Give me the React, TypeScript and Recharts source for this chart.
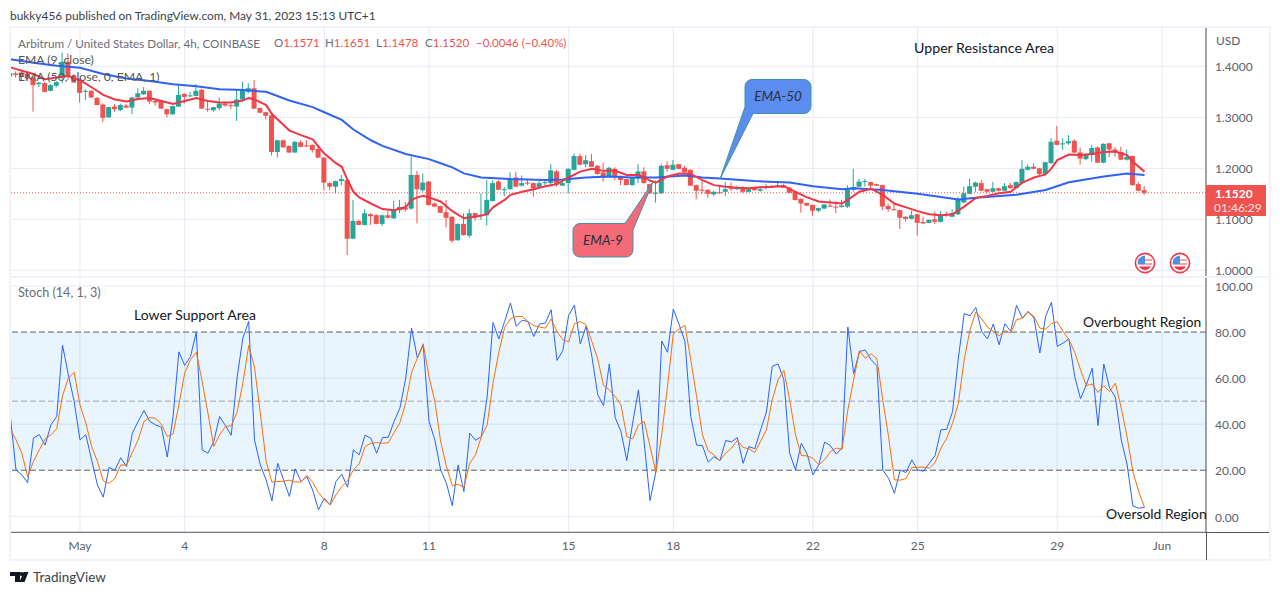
import React from "react";
import {
  ComposedChart, Bar, Line, XAxis, YAxis, CartesianGrid, ReferenceLine, ReferenceArea,
} from "recharts";

const FONT = "Lato, 'Open Sans', sans-serif";

// bar number 0 is 1 May; every bar is 4 hours
const firstBar = -12;
const xTicks = [0, 18, 42, 60, 84, 102, 126, 144, 168, 186];
const xTickLabels = ["May", "4", "8", "11", "15", "18", "22", "25", "29", "Jun"];
const priceTicks = [1.0, 1.1, 1.2, 1.3, 1.4];
const stochTicks = [0, 20, 40, 60, 80, 100];

const opens = [
  1.380,1.386,1.388,1.385,1.378,1.365,1.367,1.352,1.362,1.381,1.409,1.381,
  1.373,1.350,1.352,1.338,1.325,1.300,1.321,1.314,1.323,1.319,
  1.339,1.345,1.352,1.332,1.332,1.316,1.306,1.321,1.346,1.341,
  1.342,1.354,1.317,1.314,1.318,1.327,1.324,1.321,1.335,1.350,
  1.357,1.318,1.310,1.304,1.232,1.255,1.244,1.231,1.251,1.245,
  1.246,1.238,1.221,1.171,1.164,1.175,1.177,1.062,1.097,1.089,
  1.110,1.108,1.091,1.108,1.102,1.118,1.123,1.121,1.187,1.157,
  1.174,1.131,1.126,1.114,1.105,1.059,1.091,1.068,1.112,1.106,
  1.108,1.136,1.174,1.158,1.159,1.182,1.166,1.172,1.171,1.163,
  1.171,1.171,1.194,1.166,1.171,1.197,1.224,1.208,1.214,1.205,
  1.192,1.185,1.199,1.185,1.179,1.167,1.180,1.194,1.169,1.151,
  1.151,1.206,1.197,1.208,1.201,1.197,1.167,1.158,1.158,1.149,
  1.153,1.154,1.161,1.159,1.161,1.154,1.162,1.156,1.162,1.164,
  1.164,1.167,1.162,1.154,1.140,1.132,1.128,1.117,1.121,1.127,
  1.125,1.124,1.125,1.158,1.164,1.173,1.173,1.169,1.167,1.126,
  1.120,1.118,1.105,1.101,1.110,1.095,1.093,1.100,1.095,1.110,
  1.105,1.110,1.133,1.150,1.164,1.171,1.159,1.154,1.161,1.156,
  1.167,1.161,1.171,1.197,1.203,1.200,1.189,1.210,1.254,1.247,
  1.249,1.254,1.231,1.218,1.226,1.241,1.211,1.249,1.237,1.232,
  1.217,1.224,1.169,1.1571,
];
const highs = [
  1.388,1.390,1.393,1.388,1.381,1.370,1.369,1.365,1.371,1.427,1.425,1.384,
  1.376,1.355,1.353,1.340,1.327,1.321,1.326,1.327,1.326,1.340,
  1.357,1.359,1.353,1.337,1.334,1.317,1.323,1.365,1.347,1.350,
  1.365,1.356,1.334,1.320,1.339,1.331,1.327,1.354,1.370,1.367,
  1.373,1.319,1.311,1.305,1.256,1.256,1.245,1.253,1.255,1.255,
  1.247,1.246,1.222,1.172,1.176,1.187,1.178,1.138,1.099,1.120,
  1.112,1.110,1.109,1.116,1.136,1.138,1.134,1.223,1.195,1.190,
  1.175,1.133,1.127,1.138,1.106,1.092,1.112,1.120,1.113,1.151,
  1.177,1.176,1.177,1.164,1.192,1.193,1.186,1.177,1.172,1.176,
  1.177,1.208,1.197,1.173,1.200,1.229,1.229,1.226,1.228,1.207,
  1.211,1.203,1.202,1.186,1.180,1.183,1.208,1.202,1.170,1.176,
  1.208,1.214,1.216,1.209,1.205,1.198,1.168,1.176,1.159,1.156,
  1.165,1.173,1.172,1.166,1.165,1.161,1.164,1.165,1.169,1.167,
  1.172,1.169,1.163,1.155,1.141,1.133,1.129,1.123,1.130,1.139,
  1.135,1.138,1.167,1.199,1.180,1.179,1.174,1.170,1.168,1.131,
  1.131,1.119,1.106,1.117,1.111,1.105,1.100,1.115,1.116,1.115,
  1.120,1.144,1.164,1.180,1.174,1.177,1.160,1.173,1.162,1.171,
  1.171,1.174,1.216,1.208,1.210,1.201,1.213,1.259,1.283,1.259,
  1.265,1.257,1.241,1.229,1.246,1.243,1.249,1.250,1.242,1.242,
  1.237,1.225,1.173,1.1651,
];
const lows = [
  1.379,1.378,1.373,1.372,1.311,1.359,1.349,1.351,1.359,1.367,1.373,1.368,
  1.329,1.334,1.338,1.324,1.291,1.299,1.311,1.312,1.318,1.306,
  1.334,1.344,1.326,1.323,1.317,1.300,1.305,1.320,1.327,1.340,
  1.341,1.317,1.311,1.311,1.314,1.321,1.316,1.293,1.334,1.347,
  1.317,1.308,1.296,1.225,1.221,1.241,1.230,1.230,1.241,1.241,
  1.231,1.220,1.157,1.157,1.151,1.167,1.030,1.061,1.088,1.088,
  1.089,1.090,1.087,1.102,1.101,1.112,1.115,1.119,1.092,1.154,
  1.127,1.124,1.112,1.084,1.054,1.058,1.068,1.064,1.097,1.099,
  1.088,1.135,1.157,1.146,1.158,1.163,1.164,1.167,1.144,1.162,
  1.167,1.164,1.164,1.165,1.151,1.196,1.206,1.202,1.203,1.187,
  1.174,1.184,1.177,1.167,1.167,1.166,1.171,1.170,1.150,1.133,
  1.150,1.193,1.196,1.198,1.191,1.165,1.139,1.150,1.142,1.146,
  1.150,1.146,1.156,1.158,1.152,1.153,1.156,1.154,1.159,1.162,
  1.163,1.161,1.151,1.137,1.113,1.126,1.107,1.114,1.120,1.124,
  1.112,1.123,1.122,1.154,1.163,1.164,1.161,1.165,1.118,1.115,
  1.117,1.081,1.095,1.100,1.068,1.091,1.092,1.091,1.094,1.105,
  1.104,1.108,1.132,1.149,1.154,1.155,1.151,1.153,1.155,1.155,
  1.160,1.160,1.170,1.196,1.198,1.184,1.188,1.209,1.245,1.236,
  1.246,1.230,1.207,1.216,1.213,1.210,1.210,1.222,1.223,1.216,
  1.215,1.166,1.155,1.1478,
];
const closes = [
  1.387,1.383,1.381,1.376,1.363,1.368,1.350,1.363,1.369,1.409,1.381,1.368,
  1.348,1.352,1.339,1.324,1.299,1.320,1.316,1.324,1.319,1.339,
  1.347,1.352,1.331,1.329,1.317,1.306,1.322,1.344,1.340,1.343,
  1.352,1.317,1.316,1.320,1.327,1.323,1.322,1.335,1.352,1.357,
  1.317,1.309,1.303,1.232,1.255,1.241,1.231,1.252,1.242,1.243,
  1.236,1.221,1.172,1.164,1.175,1.179,1.062,1.097,1.089,1.112,
  1.106,1.091,1.108,1.103,1.119,1.124,1.119,1.187,1.159,1.172,
  1.128,1.125,1.113,1.103,1.058,1.091,1.069,1.112,1.104,1.108,
  1.138,1.171,1.158,1.159,1.180,1.164,1.171,1.170,1.161,1.171,
  1.173,1.196,1.168,1.171,1.199,1.224,1.207,1.216,1.203,1.189,
  1.182,1.201,1.185,1.177,1.167,1.182,1.194,1.171,1.151,1.152,
  1.205,1.199,1.207,1.199,1.192,1.166,1.156,1.156,1.150,1.154,
  1.151,1.159,1.159,1.163,1.154,1.159,1.157,1.159,1.163,1.163,
  1.167,1.162,1.152,1.138,1.131,1.127,1.117,1.122,1.129,1.125,
  1.124,1.127,1.161,1.163,1.174,1.175,1.166,1.166,1.125,1.120,
  1.118,1.103,1.101,1.108,1.093,1.092,1.099,1.095,1.108,1.108,
  1.112,1.138,1.151,1.165,1.172,1.156,1.154,1.161,1.156,1.165,
  1.161,1.173,1.199,1.203,1.199,1.189,1.212,1.252,1.246,1.249,
  1.253,1.231,1.219,1.226,1.240,1.211,1.248,1.237,1.231,1.217,
  1.222,1.167,1.156,1.1520,
];

const ema9Bars = [
  -12,-8,-6,-4,-2,0,2,4,6,8,10,12,14,16,18,20,22,24,26,28,29,30,32,33,35,36,38,40,42,44,45,46,47,48,50,52,54,56,57,58,59,
  60,62,64,66,68,70,71,73,74,76,78,80,82,84,86,88,90,92,94,96,98,99,101,103,105,107,109,111,113,115,117,119,121,123,125,127,129,131,132,
  134,136,138,140,142,144,146,148,150,152,154,156,158,160,162,164,166,167,168,170,172,174,176,178,180,181,183,
];
const ema9Values = [
  1.398,1.385,1.3745,1.378,1.381,1.373,1.359,1.344,1.335,1.331,1.336,1.338,1.332,1.326,1.332,1.338,1.332,1.329,1.329,1.333,1.338,1.335,1.324,1.3065,1.285,1.274,1.265,1.257,1.229,1.210,1.203,1.177,1.154,1.143,1.131,1.120,1.118,1.124,1.138,1.143,1.146,
  1.143,1.135,1.116,1.102,1.105,1.110,1.1235,1.138,1.148,1.154,1.159,1.165,1.169,1.182,1.1935,1.199,1.195,1.195,1.187,1.187,1.176,1.172,1.184,1.190,1.189,1.177,1.167,1.164,1.162,1.161,1.163,1.164,1.165,1.154,1.143,1.135,1.133,1.131,1.138,
  1.154,1.160,1.148,1.131,1.1235,1.116,1.110,1.108,1.110,1.125,1.142,1.146,1.151,1.154,1.172,1.182,1.188,1.200,1.216,1.227,1.226,1.228,1.232,1.233,1.226,1.213,1.1935,
];
const ema50Bars = [
  -12,-8,-4,0,4,8,12,16,20,24,28,32,36,40,42,45,47,50,52,56,
  60,62,64,66,69,74,80,83,87,91,95,99,104,107,110,116,122,126,131,
  133,138,144,151,154,161,166,170,176,180,183,
];
const ema50Values = [
  1.414,1.407,1.401,1.397,1.385,1.376,1.371,1.365,1.361,1.355,1.3535,1.350,1.333,1.320,1.310,1.295,1.276,1.255,1.244,1.228,
  1.218,1.210,1.202,1.190,1.182,1.179,1.177,1.178,1.182,1.184,1.182,1.182,1.186,1.182,1.180,1.175,1.172,1.165,1.159,
  1.161,1.1575,1.150,1.139,1.1425,1.148,1.1575,1.1725,1.184,1.190,1.187,
];

const stochK = [
  44.1,20.1,18,14.6,33.9,35.5,30.9,39.7,43.3,74.3,
  61.4,49.9,33.2,35.4,24.5,13.6,8.3,21.2,20,25.4,
  21.6,36.1,41.2,45.9,41.2,39.7,38.7,25.7,43.3,71.4,
  65.5,69.4,80,28.8,27.4,32.5,43.3,39.4,35.2,60,
  77.4,84.6,33.2,22.3,15.8,6.7,23,15.8,8.6,20.6,
  15.1,17.2,11.4,2.8,7.8,4.9,15.1,18.3,12.6,28.8,
  26.7,35.2,33.9,27.4,34.2,34.3,41.2,47,60,81.7,
  68.7,74.5,41.2,
  33.2,20.1,14.3,4.6,22.3,10.7,36.1,33,34.6,52,
  84.2,77,84.6,92.6,82.5,85.1,84.6,78.1,83.5,83.9,
  89.7,67.7,71.9,87.2,91.7,74.9,82.5,69.4,52.8,48,
  66.2,42.9,36.8,24.2,40.4,54.9,31.7,6.8,19.4,76.1,
  71.2,90,83.2,75.9,43.3,30.9,30.7,23.5,25.9,24.1,
  32.9,32.3,34.2,23,30.3,29.3,37.5,45.2,65.1,66.2,
  59.3,27.4,20.1,31.7,27,18,22.3,32.2,30.7,27,
  29.6,82.2,61.9,
  71.6,72.2,68,65.4,20.1,16.5,10,20.1,19,24.5,
  20.1,19.6,23,26.4,37.5,37.8,45.5,68.7,88,87.1,
  90.7,80.3,77,83.5,74.5,83.6,80.3,91.6,86.1,89,
  86.1,70.9,86.8,93,73.8,75.2,77,60.7,51,57.1,
  64.3,39.4,66.1,55.7,51.7,33.2,22.6,4.5,3.5,3.9,
];
const stochD = [
  38,33.2,27.4,17.2,23.8,28.8,33.5,35.4,38,52.3,
  60,62.5,48.4,40.4,30.3,23.8,15.4,14.3,16.5,22.3,
  22.2,27.7,33.2,41.2,42.9,42.5,40,34.6,35.8,48.4,
  62.2,68,71.2,58.6,44.8,30.3,35.4,39,39.3,45.1,
  57.8,74.1,64.8,44.8,23.8,14.8,15.1,15.2,15.7,14.9,
  14.8,17.7,14.8,10.3,7.1,4.9,9.3,12.9,15.5,20.1,
  22.8,30.3,31.7,32,31.7,31.9,36.4,40.7,49.4,62.5,
  68.7,74.9,60.7,
  49.9,32.5,21.6,13.3,13.9,12.6,23,26.7,34.6,39.7,
  57.8,71.2,82,85.7,86.8,86.8,84.6,82.8,82.2,81.7,
  85.7,80.3,76.7,75.7,83.6,84.6,83.2,75.9,68.3,56.8,
  54.9,52,48.4,34.6,33.6,39.7,41.2,30.3,19,35.4,
  56.4,79.3,81.3,82.9,68,52,35.4,28.4,26.7,24.1,
  27.4,29.6,32.9,29.9,29.3,27.7,32.5,37.5,50.6,59.3,
  63.3,50.6,35.4,26.4,26.2,25.2,22.3,24.5,28.1,29.6,
  29.1,46.2,59.3,
  71.9,68.6,70.6,68.4,50.6,34.6,15.8,15.7,16.4,21.2,
  21.3,21.4,20.9,23.3,29.6,33.9,40.4,49.1,68,81,
  88.7,85.7,82.2,80.3,78.4,80.7,79.6,85.4,85.9,88.7,
  86.8,81.7,81.3,83.6,84.5,80.3,76.7,71.2,63.6,56.7,
  57.5,53.8,56.7,54.2,57.8,47,34.6,19.4,10.7,3.9,
];

const lastClose = closes[closes.length - 1];

const rows = opens.map((o, k) => {
  const bar = firstBar + k;
  const e9 = ema9Bars.indexOf(bar);
  const e50 = ema50Bars.indexOf(bar);
  return {
    bar, open: o, high: highs[k], low: lows[k], close: closes[k],
    range: [lows[k], highs[k]],
    ema9: e9 >= 0 ? ema9Values[e9] : null,
    ema50: e50 >= 0 ? ema50Values[e50] : null,
    k: stochK[k], d: stochD[k],
  };
});

const GREEN = "#26a69a";
const RED = "#ef5350";
const GRID = "#e4ebf2";
const AXIS = "#50535e";
const LABEL = "#5d606b";
const xDomain: [number, number] = [-12.03, 193.57];

function Candle(props: any) {
  const { x, y, width, height, payload } = props;
  const { open, high, low, close } = payload;
  const span = high - low || 1;
  const yOf = (v: number) => y + ((high - v) / span) * height;
  const top = yOf(Math.max(open, close));
  const bottom = yOf(Math.min(open, close));
  const cx = x + width / 2;
  const color = close >= open ? GREEN : RED;
  return (
    <g>
      <line x1={cx} x2={cx} y1={y} y2={y + height} stroke={color} strokeWidth={1} />
      <rect x={cx - 2.5} y={top} width={5} height={Math.max(bottom - top, 1)} fill={color} />
    </g>
  );
}

function Txt({ x, y, children, color = "#131722", size = 11.8, style }: any) {
  return (
    <div style={{
      position: "absolute", left: x, top: y - 10, height: 20, lineHeight: "20px",
      whiteSpace: "nowrap", fontSize: size, color, fontFamily: FONT, ...style,
    }}>{children}</div>
  );
}

function Flag({ cx, cy }: { cx: number; cy: number }) {
  return (
    <g>
      <circle cx={cx} cy={cy} r={9.6} fill="#fff" stroke="#f23645" strokeWidth={1.6} />
      <path d={`M${cx - 7} ${cy - 4}h14v2h-14z M${cx - 7} ${cy}h14v2h-14z`} fill="#f7a3a8" />
      <path d={`M${cx - 6} ${cy + 3.5}h12a7 7 0 0 1-12 0z`} fill="#f23645" />
      <path d={`M${cx - 7.4} ${cy + 1}a7.6 7.6 0 0 1 7.4-8.4v8.4z`} fill="#4a90e2" />
    </g>
  );
}

function Box({ left, top, width, height, color }: any) {
  return <div style={{ position: "absolute", left, top, width, height, background: color }} />;
}

const legendNums = [
  { x: 274, l: "O", v: "1.1571" }, { x: 325, l: "H", v: "1.1651" },
  { x: 376, l: "L", v: "1.1478" }, { x: 425, l: "C", v: "1.1520" },
];

export default function App() {
  const tick = { fontSize: 12, fill: LABEL, fontFamily: FONT };
  return (
    <div style={{ position: "absolute", left: 0, top: 0, width: 1280, height: 595, background: "#fff", overflow: "hidden" }}>
      <Txt x={10} y={15.5} color="#3b3f4a" size={11.9}>bukky456 published on TradingView.com, May 31, 2023 15:13 UTC+1</Txt>

      <div style={{ position: "absolute", left: 10, top: 27 }}>
        <ComposedChart width={1260} height={250} data={rows} margin={{ top: 0, right: 0, bottom: 0, left: 0 }}>
          <CartesianGrid stroke={GRID} strokeWidth={1} />
          <XAxis dataKey="bar" type="number" domain={xDomain} ticks={xTicks} hide allowDataOverflow />
          <YAxis orientation="right" width={64} domain={[0.9869, 1.4771]} ticks={priceTicks} interval={0} allowDataOverflow
            tickFormatter={(v: number) => v.toFixed(4)} tick={tick} tickSize={0} tickMargin={9} stroke={AXIS} />
          <ReferenceLine y={lastClose} stroke={RED} strokeDasharray="1 2" />
          <Bar dataKey="range" barSize={5} shape={Candle} isAnimationActive={false} />
          <Line dataKey="ema50" stroke="#2f62f5" strokeWidth={2} dot={false} connectNulls isAnimationActive={false} />
          <Line dataKey="ema9" stroke="#f23645" strokeWidth={2} dot={false} connectNulls isAnimationActive={false} />
        </ComposedChart>
      </div>

      <div style={{ position: "absolute", left: 10, top: 278 }}>
        <ComposedChart width={1260} height={282} data={rows} margin={{ top: 0, right: 0, bottom: 0, left: 0 }}>
          <CartesianGrid stroke={GRID} horizontalValues={[0, 40, 60, 100]} />
          <XAxis dataKey="bar" type="number" domain={xDomain} ticks={xTicks} interval={0} height={27.7} allowDataOverflow
            tickFormatter={(v: number) => xTickLabels[xTicks.indexOf(v)]} tick={tick} tickSize={0} tickMargin={9} stroke={AXIS} />
          <YAxis orientation="right" width={64} domain={[-6.96, 103.48]} ticks={stochTicks} interval={0} allowDataOverflow
            tickFormatter={(v: number) => v.toFixed(2)} tick={{ ...tick, dy: 1 }} tickSize={0} tickMargin={9} stroke={AXIS} />
          <ReferenceArea y1={20} y2={80} fill="#2196f3" fillOpacity={0.1} stroke="none" />
          <ReferenceLine y={80} stroke="#5d606b" strokeDasharray="6 3" />
          <ReferenceLine y={50} stroke="#a3a6af" strokeDasharray="6 3" />
          <ReferenceLine y={20} stroke="#5d606b" strokeDasharray="6 3" />
          <Line dataKey="k" stroke="#2962ff" strokeWidth={1} dot={false} isAnimationActive={false} />
          <Line dataKey="d" stroke="#ff6d00" strokeWidth={1} dot={false} isAnimationActive={false} />
        </ComposedChart>
      </div>

      {/* frame */}
      <Box left={9} top={26} width={1262} height={2} color="#f0f3fa" />
      <Box left={9} top={26} width={2} height={535} color="#f0f3fa" />
      <Box left={1269} top={26} width={2} height={535} color="#f0f3fa" />
      <Box left={9} top={559} width={1262} height={2} color="#f0f3fa" />
      <Box left={10} top={276} width={1260} height={2} color="#f0f3fa" />
      <Box left={1206} top={532} width={1} height={28} color={AXIS} />
      <Box left={1206} top={532} width={63} height={1} color={AXIS} />

      {/* legend */}
      <Txt x={18} y={43} color="#6a6d78" size={11.7}>Arbitrum / United States Dollar, 4h, COINBASE</Txt>
      {legendNums.map((n) => (
        <Txt key={n.l} x={n.x} y={43} color="#6a6d78" size={11.6}>{n.l}<span style={{ color: RED }}>{n.v}</span></Txt>
      ))}
      <Txt x={476} y={43} color={RED} size={11.5}>−0.0046 (−0.40%)</Txt>
      <Txt x={18} y={60} color="#555" size={12.2}>EMA (9, close)</Txt>
      <Txt x={18} y={77} color="#555" size={12.2}>EMA (50, close, 0, EMA, 1)</Txt>
      <Txt x={18} y={293} color="#6a6d78" size={12.6}>Stoch (14, 1, 3)</Txt>
      <Txt x={1216} y={41} color={LABEL} size={12}>USD</Txt>

      {/* annotations */}
      <Txt x={914} y={48} size={14.2}>Upper Resistance Area</Txt>
      <Txt x={134} y={315} size={14}>Lower Support Area</Txt>
      <Txt x={1083} y={322} size={13.8}>Overbought Region</Txt>
      <Txt x={1106} y={514} size={13.9}>Oversold Region</Txt>

      <svg width={1280} height={595} style={{ position: "absolute", left: 0, top: 0, pointerEvents: "none" }}>
        <path d="M752 79.5h52a7 7 0 0 1 7 7v20a7 7 0 0 1-7 7h-51L720 179l25-72V86.5a7 7 0 0 1 7-7z"
          fill="#5b8def" stroke="#3f93a5" strokeWidth={1} />
        <path d="M580 223.5h45L653 182l-20 48v20a7 7 0 0 1-7 7h-46a7 7 0 0 1-7-7v-19.500a7 7 0 0 1 7-7z"
          fill="#f56a78" stroke="#3f93a5" strokeWidth={1} />
        <text x={778} y={101} textAnchor="middle" fontSize={13.5} fontStyle="italic" fill="#2a2e39" fontFamily={FONT}>EMA-50</text>
        <text x={603} y={245} textAnchor="middle" fontSize={13.5} fontStyle="italic" fill="#2a2e39" fontFamily={FONT}>EMA-9</text>
        <Flag cx={1145} cy={263} />
        <Flag cx={1180} cy={263} />
        {/* TradingView mark */}
        <path d="M10 572h10v10h-5v-6h-5z" fill="#131722" />
        <circle cx={21.500} cy={574} r={2} fill="#131722" />
        <path d="M23.500 572h5l-4 10h-5z" fill="#131722" />
      </svg>

      <div style={{ position: "absolute", left: 1206, top: 185, width: 60, height: 31, background: RED }} />
      <Txt x={1215} y={194} color="#fff" size={12} style={{ fontWeight: 700 }}>1.1520</Txt>
      <Txt x={1214} y={208} color="#fde3e3" size={12}>01:46:29</Txt>

      <Txt x={33} y={577} color="#3b3f4a" size={13.5}>TradingView</Txt>
    </div>
  );
}
